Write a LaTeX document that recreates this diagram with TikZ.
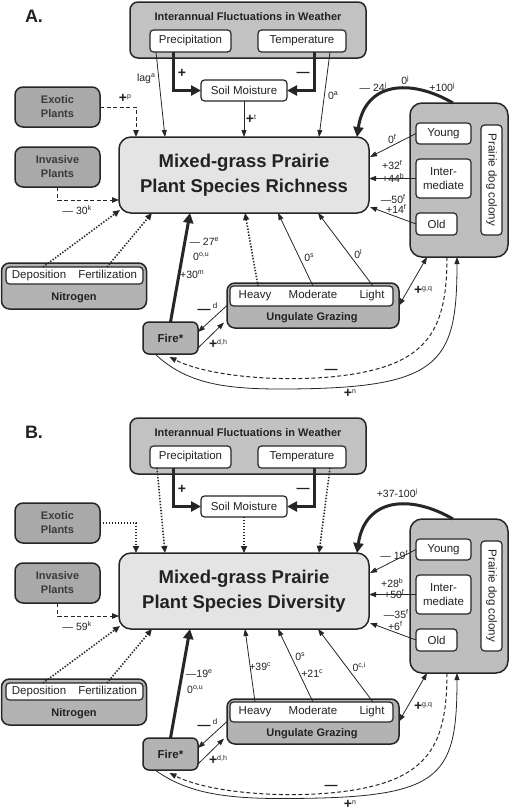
\documentclass[tikz,border=0pt]{standalone}
\usepackage{fontspec}
\setmainfont{Liberation Sans}
\usetikzlibrary{arrows.meta,calc}
\definecolor{lc}{HTML}{262626}
\definecolor{tc}{HTML}{222222}
\definecolor{tc2}{HTML}{3A3A3A}
\definecolor{wxfill}{HTML}{C2C2C2}
\definecolor{dkfill}{HTML}{A9A9A9}
\definecolor{mainfill}{HTML}{E4E4E4}
\definecolor{midfill}{HTML}{B3B3B3}
\definecolor{colfill}{HTML}{BEBEBE}
\newcommand\fsz[2]{\fontsize{#1}{#2}\selectfont}
\newcommand\spx[1]{\raisebox{3.8pt}{\fsz{7}{7}#1}}
\newcommand\bpl{{\fsz{14}{14}\bfseries +}}
\tikzset{
 obox/.style={draw=lc, line width=1.5pt, rounded corners=8pt, inner sep=0pt, outer sep=0pt},
 wbox/.style={draw=lc, line width=1.2pt, rounded corners=3.5pt, fill=white, inner sep=0pt, outer sep=0pt, text=tc, font=\fsz{11.5}{14}},
 btxt/.style={inner sep=0pt, text=tc, font=\fsz{11}{14}\bfseries, align=center},
 rtxt/.style={inner sep=0pt, text=tc, font=\fsz{11.5}{14}, text height=8.3pt, text depth=2.4pt},
 lab/.style={inner sep=0pt, text=tc, font=\fsz{10.5}{12}},
 pls/.style={inner sep=0pt, text=tc, font=\fsz{14}{14}\bfseries},
 bdash/.style={inner sep=0pt, text=tc, font=\fsz{13}{13}\bfseries},
 thinarr/.style={draw=lc, line width=0.8pt, -{Triangle[length=7pt,width=5pt]}},
 thickarr/.style={draw=lc, line width=3pt, -{Triangle[length=10pt,width=10pt]}},
 dasharr/.style={draw=lc, line width=1pt, dash pattern=on 4pt off 2.5pt, -{Triangle[length=7pt,width=5.5pt]}},
 dotarr/.style={draw=lc, line width=1.6pt, dash pattern=on 1.4pt off 1.6pt, -{Triangle[length=7pt,width=6pt]}},
 dblarr/.style={draw=lc, line width=0.8pt, {Triangle[length=7pt,width=5pt]}-{Triangle[length=7pt,width=5pt]}},
}
\newcommand\panelboxes[4]{%
 \node[inner sep=0pt, text=tc, font=\fsz{18}{18}\bfseries] (plabel) at (34,16) {#1};
 \node[obox, fill=wxfill, minimum width=236pt, minimum height=56pt] (wx) at (248,30) {};
 \node[btxt] (wxt) at (248,16.5) {Interannual Fluctuations in Weather};
 \node[wbox, minimum width=81pt, minimum height=22pt] (prec) at (190.5,41) {Precipitation};
 \node[wbox, minimum width=88pt, minimum height=22pt] (temp) at (302,41) {Temperature};
 \node[wbox, minimum width=86pt, minimum height=21pt] (soil) at (244,90.5) {Soil Moisture};
 \node[obox, fill=dkfill, minimum width=85pt, minimum height=40pt, font=\fsz{11}{14}\bfseries, text=tc2, align=center] (exo) at (57.5,107) {Exotic\\Plants};
 \node[obox, fill=dkfill, minimum width=85pt, minimum height=40pt, font=\fsz{11}{14}\bfseries, text=tc2, align=center] (inv) at (57.5,167) {Invasive\\Plants};
 \node[obox, fill=mainfill, rounded corners=12pt, minimum width=250pt, minimum height=76pt, font=\fsz{18.5}{25}\bfseries, text=tc, align=center] (main) at (244,175) {Mixed-grass Prairie\\Plant Species #2};
 \node[obox, fill=midfill, minimum width=145pt, minimum height=46pt] (nit) at (74,286) {};
 \node[wbox, minimum width=137pt, minimum height=17pt] (nin) at (74.5,275.5) {Deposition\hspace{12pt}Fertilization};
 \node[btxt] (nitt) at (74,297.5) {Nitrogen};
 \node[obox, fill=midfill, rounded corners=6pt, minimum width=55pt, minimum height=32pt, font=\fsz{11.5}{14}\bfseries, text=tc] (fire) at (170.5,338) {Fire*};
 \node[obox, fill=midfill, minimum width=172pt, minimum height=45pt] (graz) at (313,305.5) {};
 \node[wbox, minimum width=163pt, minimum height=20pt] (gin) at (311.5,296) {};
 \node[rtxt] (heavy) at (255,296) {Heavy};
 \node[rtxt] (mod) at (313,296) {Moderate};
 \node[rtxt] (light) at (372,296) {Light};
 \node[btxt] (grazt) at (312,317.5) {Ungulate Grazing};
 \node[obox, fill=colfill, rounded corners=12pt, minimum width=98pt, minimum height=154pt] (col) at (459,180) {};
 \node[wbox, minimum width=55pt, minimum height=21pt] (yng) at (443.5,133.5) {Young};
 \node[wbox, minimum width=55pt, minimum height=39pt, align=center, font=\fsz{11.5}{13.5}] (int) at (443.5,178.5) {Inter-\\mediate};
 \node[wbox, minimum width=41pt, minimum height=22pt] (old) at (436.5,224) {Old};
 \node[wbox, minimum width=21pt, minimum height=110pt] (pdc) at (491.5,180) {};
 \node[rtxt, rotate=-90] (pdct) at (pdc.center) {Prairie dog colony};
 % common connectors
 \draw[thickarr] ([xshift=-17.5pt]prec.south) |- (soil.west);
 \node[pls] (plsP) at (182,73) {+};
 \draw[thickarr] ([xshift=12pt]temp.south) |- (soil.east);
 \node[bdash] (dshT) at (303,74) {—};
 \draw[dasharr] (inv.south) |- (main.west |- 0,200);
 \draw[dotarr] (43,0 |- nin.north) -- ([shift={(1,-3)}]main.south west);
 \draw[dotarr] (107,0 |- nin.north) -- (152,0 |- main.south);
 \draw[thickarr] (fire.north) -- (190,0 |- main.south);
 \draw[thinarr] (313,0 |- gin.north) -- (278,0 |- main.south);
 \draw[thinarr] (373,0 |- gin.north) -- (318,0 |- main.south);
 \draw[thinarr] (graz.west) -- ([shift={(0,-6)}]fire.east);
 \node[bdash] (lbd1) at (204,311) {—};
 \node[lab, font=\fsz{8}{8}] (lbd2) at (215,306) {d};
 \draw[thinarr] ([shift={(0,10)}]fire.east) -- ([shift={(-3,17)}]graz.west);
 \node[lab] (ldh) at (218,344) {\bpl\spx{d,h}};
 \draw[dblarr] (graz.east) -- (427,0 |- col.south);
 \node[lab] (lgq) at (423,290) {\bpl\spx{g,q}};
 \draw[thickarr] ([xshift=-6pt]col.north) .. controls (410,78) and (365,82) .. (357,0 |- main.north);
 \draw[thinarr] (yng.west) -- ([shift={(1,-18)}]main.east);
 \draw[thinarr] (int.west) -- (main.east |- int.west);
 \draw[thinarr] (old.west) -- ([shift={(1,32)}]main.east);
 \draw[dasharr] (447,0 |- col.south) .. controls (447,335) and (425,368) .. (330,377) .. controls (270,382) and (205,375) .. ([shift={(-1,3)}]fire.south);
 \node[bdash] (ldash) at (331,371) {—};
 \draw[thinarr] (155,0 |- fire.south) .. controls (185,#4-7) and (220,#4) .. (280,#4) .. controls (440,#4) and (457,365) .. (457,0 |- col.south);
 \node[lab] (lpn) at (350,#3) {\bpl\spx{n}};
}
\begin{document}
\begin{tikzpicture}[x=1pt,y=-1pt]
\useasboundingbox (0,0) rectangle (510,811);
\begin{scope}[name prefix=A-]
 \panelboxes{A.}{Richness}{393}{389}
 \draw[thinarr] ([xshift=-34.5pt]prec.south) -- (165,0 |- main.north);
 \node[lab] (llag) at (146,79) {lag\spx{a}};
 \draw[thinarr] ([xshift=28pt]temp.south) -- (319,0 |- main.north);
 \node[lab] (l0a) at (333,96) {0\spx{a}};
 \draw[thinarr] (soil.south) -- (main.north);
 \node[lab] (lt) at (251,119) {\bpl\spx{t}};
 \draw[dasharr] (exo.east) -| (136,0 |- main.north);
 \node[lab] (lp) at (125,98) {\bpl\spx{p}};
 \node[lab] (l30) at (77,210) {— 30\spx{k}};
 \node[lab] (l27) at (204,242) {— 27\spx{e}};
 \node[lab] (l0ou) at (201,257) {0\spx{o,u}};
 \node[lab] (l30m) at (192,275) {+30\spx{m}};
 \draw[dotarr] (258,0 |- gin.north) -- (245,0 |- main.south);
 \node[lab] (l0s) at (309,258) {0\spx{s}};
 \node[lab] (l0l) at (358,254) {0\spx{l}};
 \node[lab] (l24) at (373,87) {— 24\spx{j}};
 \node[lab] (l0j) at (405,80) {0\spx{j}};
 \node[lab] (l100) at (442,87) {+100\spx{j}};
 \node[lab] (l0f) at (392,139) {0\spx{f}};
 \node[lab] (l32) at (392,165) {+32\spx{f}};
 \node[lab] (l44) at (393,178) {+44\spx{b}};
 \node[lab] (l50) at (393,199) {—50\spx{f}};
 \node[lab] (l14) at (396,209) {+14\spx{f}};
\end{scope}
\begin{scope}[shift={(0,416)}, name prefix=B-]
 \panelboxes{B.}{Diversity}{388.3}{382.5}
 \draw[dotarr] ([xshift=-33.5pt]prec.south) -- (165,0 |- main.north);
 \draw[dotarr] ([xshift=28pt]temp.south) -- (319,0 |- main.north);
 \draw[dotarr] (soil.south) -- (main.north);
 \draw[dotarr] (exo.east) -| (136,0 |- main.north);
 \node[lab] (l59) at (77,210) {— 59\spx{k}};
 \node[lab] (l19e) at (199,258) {—19\spx{e}};
 \node[lab] (l0ou) at (195,274) {0\spx{o,u}};
 \draw[thinarr] (255,0 |- gin.north) -- (245,0 |- main.south);
 \node[lab] (l39) at (260,251) {+39\spx{c}};
 \node[lab] (l0s) at (300,241) {0\spx{s}};
 \node[lab] (l21) at (312,258) {+21\spx{c}};
 \node[lab] (l0ci) at (359,251) {0\spx{c,i}};
 \node[lab] (l37) at (397,77) {+37-100\spx{j}};
 \node[lab] (l19f) at (394,139) {— 19\spx{f}};
 \node[lab] (l28) at (392,167) {+28\spx{b}};
 \node[lab] (l50) at (394,178) {+50\spx{f}};
 \node[lab] (l35) at (396,198) {—35\spx{f}};
 \node[lab] (l6) at (395,210) {+6\spx{f}};
\end{scope}
\end{tikzpicture}
\end{document}
